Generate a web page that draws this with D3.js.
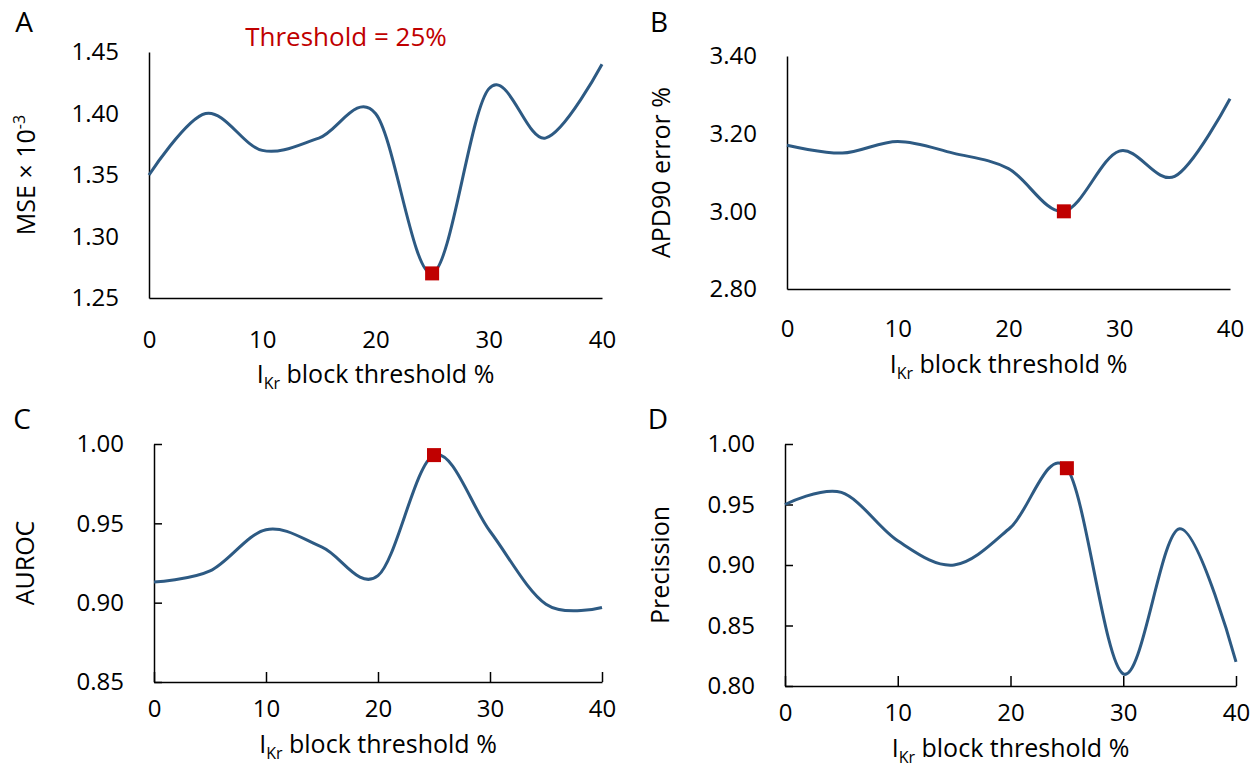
<!DOCTYPE html>
<html>
<head>
<meta charset="utf-8">
<script src="https://cdn.jsdelivr.net/npm/d3@7"></script>
<style>
  body { margin: 0; background: #fff; }
  svg { font-family: "Open Sans", sans-serif; }
</style>
</head>
<body>
<svg id="chart" width="1260" height="773"></svg>
<script>
// data
var thresholds = [0, 5, 10, 15, 20, 25, 30, 35, 40];
var mse = [1.35, 1.40, 1.37, 1.38, 1.40, 1.27, 1.42, 1.38, 1.44];
var apd90Error = [3.17, 3.15, 3.18, 3.15, 3.11, 3.00, 3.155, 3.09, 3.29];
var auroc = [0.913, 0.92, 0.946, 0.935, 0.917, 0.993, 0.945, 0.899, 0.897];
var precision = [0.95, 0.96, 0.92, 0.90, 0.931, 0.98, 0.81, 0.93, 0.82];
var bestThreshold = 25;

var xTicks = [0, 10, 20, 30, 40];
var mseTicks = [1.25, 1.30, 1.35, 1.40, 1.45];
var apdTicks = [2.80, 3.00, 3.20, 3.40];
var aurocTicks = [0.85, 0.90, 0.95, 1.00];
var precisionTicks = [0.80, 0.85, 0.90, 0.95, 1.00];

var lineColor = "#2d5a83",
    red = "#c00000";

var svg = d3.select("#chart");

// one entry per sub-plot (layout only)
var panels = [
  {letter: "A", lx: 24, ly: 22, values: mse, ticks: mseTicks, yTitle: ["MSE × 10", "-3"],
   left: 149, right: 602, top: 52, bottom: 298, marks: false, xLabelY: 340, xTitleY: 374, yTitleX: 26},
  {letter: "B", lx: 659, ly: 22, values: apd90Error, ticks: apdTicks, yTitle: ["APD90 error %"],
   left: 787, right: 1230, top: 56, bottom: 289, marks: false, xLabelY: 329, xTitleY: 364, yTitleX: 661},
  {letter: "C", lx: 22, ly: 419, values: auroc, ticks: aurocTicks, yTitle: ["AUROC"],
   left: 154, right: 602, top: 444, bottom: 682, marks: true, xLabelY: 709, xTitleY: 744, yTitleX: 25},
  {letter: "D", lx: 658, ly: 419, values: precision, ticks: precisionTicks, yTitle: ["Precission"],
   left: 785, right: 1236, top: 444, bottom: 686, marks: true, xLabelY: 713, xTitleY: 748, yTitleX: 660}
];

panels.forEach(function (p) {
  var x = d3.scaleLinear().domain([0, 40]).range([p.left, p.right]);
  var y = d3.scaleLinear()
      .domain([p.ticks[0], p.ticks[p.ticks.length - 1]])
      .range([p.bottom, p.top]);

  // x axis
  var gx = svg.append("g")
      .attr("transform", "translate(0," + p.bottom + ")")
      .call(d3.axisBottom(x)
          .tickValues(xTicks)
          .tickFormat(d3.format("d"))
          .tickSizeInner(p.marks ? -10 : 0)
          .tickSizeOuter(0)
          .tickPadding(p.xLabelY - p.bottom - 9));

  // y axis
  var gy = svg.append("g")
      .attr("transform", "translate(" + p.left + ",0)")
      .call(d3.axisLeft(y)
          .tickValues(p.ticks)
          .tickFormat(d3.format(".2f"))
          .tickSizeInner(p.marks ? -8 : 0)
          .tickSizeOuter(0)
          .tickPadding(30));

  [gx, gy].forEach(function (g) {
    g.attr("font-size", 24).attr("font-family", null);
    g.selectAll(".domain, .tick line").attr("stroke", "#000").attr("stroke-width", 1.5);
    g.selectAll("text").attr("fill", "#000");
  });

  // the curve
  var line = d3.line()
      .x(function (d, i) { return x(thresholds[i]); })
      .y(function (d) { return y(d); })
      .curve(d3.curveCardinal.tension(0));

  svg.append("path")
      .datum(p.values)
      .attr("d", line)
      .attr("fill", "none")
      .attr("stroke", lineColor)
      .attr("stroke-width", 3);

  // selected threshold marker
  var bi = thresholds.indexOf(bestThreshold);
  svg.append("rect")
      .attr("x", x(bestThreshold) - 7)
      .attr("y", y(p.values[bi]) - 7)
      .attr("width", 14)
      .attr("height", 14)
      .attr("fill", red);

  // x axis title with subscript
  var xt = svg.append("text")
      .attr("x", (p.left + p.right) / 2)
      .attr("y", p.xTitleY)
      .attr("dy", "0.35em")
      .attr("text-anchor", "middle")
      .attr("font-size", 25);
  xt.append("tspan").text("I");
  xt.append("tspan").text("Kr").attr("font-size", 16).attr("dy", 6);
  xt.append("tspan").text(" block threshold %").attr("dy", -6);

  // y axis title
  var yt = svg.append("text")
      .attr("transform", "translate(" + p.yTitleX + "," + ((p.top + p.bottom) / 2) + ") rotate(-90)")
      .attr("dy", "0.35em")
      .attr("text-anchor", "middle")
      .attr("font-size", 25);
  yt.append("tspan").text(p.yTitle[0]);
  if (p.yTitle[1]) {
    yt.append("tspan").text(p.yTitle[1]).attr("font-size", 16).attr("dy", -10);
  }

  // panel letter
  svg.append("text")
      .attr("x", p.lx)
      .attr("y", p.ly)
      .attr("dy", "0.35em")
      .attr("text-anchor", "middle")
      .attr("font-size", 28)
      .text(p.letter);
});

svg.append("text")
    .attr("x", 346)
    .attr("y", 37)
    .attr("dy", "0.35em")
    .attr("text-anchor", "middle")
    .attr("font-size", 26)
    .attr("fill", red)
    .text("Threshold = " + bestThreshold + "%");
</script>
</body>
</html>
